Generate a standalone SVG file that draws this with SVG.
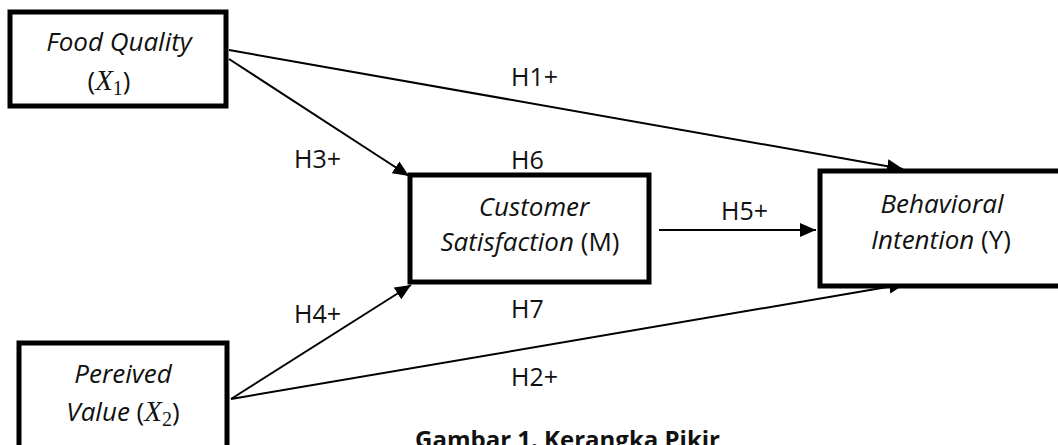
<svg xmlns="http://www.w3.org/2000/svg" width="1058" height="445" viewBox="0 0 1058 445">
<style>
.box{fill:#fff;stroke:#000;stroke-width:5}
.t{font-family:"Open Sans","Liberation Sans",sans-serif;font-size:26px;fill:#111}
.l{font-family:"Open Sans","Liberation Sans",sans-serif;font-size:25px;fill:#111}
.i{font-style:italic}
.m{font-family:"Liberation Serif","DejaVu Serif",serif;font-size:29px;font-style:italic}
.s{font-family:"Liberation Serif","DejaVu Serif",serif;font-size:20px;font-style:normal}
.c{stroke:#000;stroke-width:2;fill:none}
.b{font-family:"Open Sans","Liberation Sans",sans-serif;font-size:24px;font-weight:bold;fill:#111}
</style>
<defs>
<marker id="ah" markerUnits="userSpaceOnUse" markerWidth="18" markerHeight="14" refX="16" refY="7" orient="auto">
<path d="M0,0 L16,7 L0,14 Z" fill="#000"/>
</marker>
</defs>
<rect width="1058" height="445" fill="#fff"/>
<g id="connectors">
<line class="c" x1="229" y1="50" x2="903" y2="169" marker-end="url(#ah)"/>
<line class="c" x1="229" y1="59" x2="409" y2="176" marker-end="url(#ah)"/>
<line class="c" x1="231" y1="399" x2="411" y2="285" marker-end="url(#ah)"/>
<line class="c" x1="231" y1="399" x2="905" y2="284" marker-end="url(#ah)"/>
<line class="c" x1="659" y1="230" x2="816" y2="230" marker-end="url(#ah)"/>
</g>
<g id="labels">
<text class="l" x="511" y="86">H1+</text>
<text class="l" x="511" y="169">H6</text>
<text class="l" x="294" y="168">H3+</text>
<text class="l" x="294" y="323">H4+</text>
<text class="l" x="511" y="318">H7</text>
<text class="l" x="511" y="386">H2+</text>
<text class="l" x="721" y="220">H5+</text>
</g>
<g id="food-quality">
<rect class="box" x="10" y="12" width="216" height="94"/>
<text class="t i" x="119" y="51" text-anchor="middle">Food Quality</text>
<text class="t" x="109" y="90" text-anchor="middle">(<tspan class="m">X</tspan><tspan class="s" dy="5">1</tspan><tspan dy="-5">)</tspan></text>
</g>
<g id="perceived-value">
<rect class="box" x="19" y="343" width="208" height="120"/>
<text class="t i" x="123" y="383" text-anchor="middle">Pereived</text>
<text class="t" x="123" y="421" text-anchor="middle"><tspan class="i">Value</tspan> (<tspan class="m">X</tspan><tspan class="s" dy="5">2</tspan><tspan dy="-5">)</tspan></text>
</g>
<g id="customer-satisfaction">
<rect class="box" x="410" y="175" width="239" height="107"/>
<text class="t i" x="534" y="216" text-anchor="middle">Customer</text>
<text class="t" x="530" y="251" text-anchor="middle"><tspan class="i">Satisfaction</tspan> (M)</text>
</g>
<g id="behavioral-intention">
<rect class="box" x="820" y="171" width="260" height="115"/>
<text class="t i" x="942" y="213" text-anchor="middle">Behavioral</text>
<text class="t" x="941" y="249" text-anchor="middle"><tspan class="i">Intention</tspan> (Y)</text>
</g>
<text class="b" x="415" y="448">Gambar 1. Kerangka Pikir</text>
</svg>
